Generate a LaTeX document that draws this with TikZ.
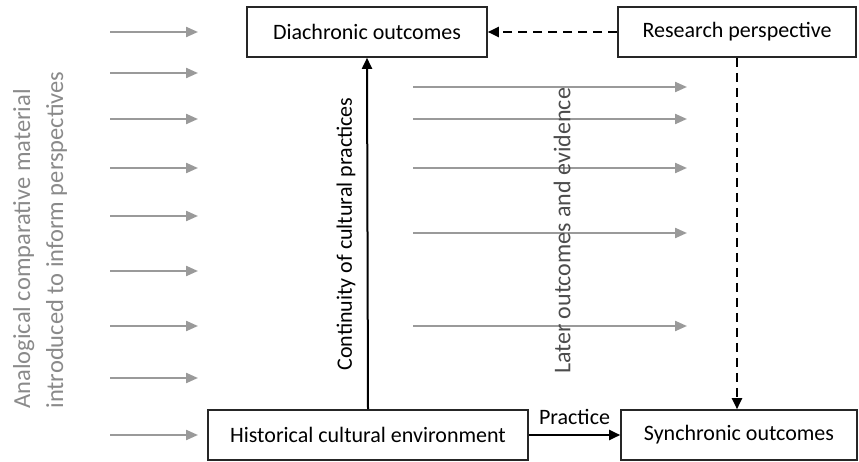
\documentclass[tikz,border=0pt]{standalone}
\usepackage{fontspec}
\setmainfont{Carlito}
\usetikzlibrary{arrows.meta}
\definecolor{feedgray}{HTML}{9A9A9A}
\definecolor{labelgray}{HTML}{8A8A8A}
\tikzset{
  box/.style={draw=black!85, line width=1.6pt, minimum height=50pt, inner sep=0pt,
    font=\fontsize{22}{26}\selectfont},
  feed/.style={feedgray, line width=2.2pt, -{Triangle[length=12pt,width=10pt]}},
  link/.style={black, line width=2pt, -{Triangle[length=11pt,width=10pt]}},
  plink/.style={link, dash pattern=on 9pt off 6pt},
}
\begin{document}
\begin{tikzpicture}[x=1pt,y=-1pt]
    \useasboundingbox (0,0) rectangle (859,462);

    \node[box,minimum width=240pt] (dia) at (367,32) {Diachronic outcomes};
    \node[box,minimum width=238pt] (res) at (737,32) {Research perspective};
    \node[box,minimum width=320pt] (hist) at (368,435) {Historical cultural environment};
    \node[box,minimum width=236pt] (syn) at (739,435) {Synchronic outcomes};

    % analogical material coming in from the left
    \foreach \y [count=\i] in {32,73,119,168,216,271,326,378,435}{
        \coordinate (al\i) at (110,\y);
        \coordinate (ar\i) at (198,\y);
        \draw[feed] (al\i) -- (ar\i);
    }
    % later outcomes
    \foreach \y [count=\i] in {87,119,168,233,326}{
        \coordinate (ml\i) at (413,\y);
        \coordinate (mr\i) at (687,\y);
        \draw[feed] (ml\i) -- (mr\i);
    }

    \node[labelgray,rotate=90,align=left,inner sep=0pt,font=\fontsize{24.5}{33}\selectfont]
        (anal) at (40,240) {Analogical comparative material\\introduced to inform perspectives};
    \node[rotate=90,inner sep=0pt,font=\fontsize{22}{26}\selectfont]
        (cont) at (346,234) {Continuity of cultural practices};
    \node[black!70,rotate=90,inner sep=0pt,font=\fontsize{24}{26}\selectfont]
        (later) at (562,231) {Later outcomes and evidence};

    \draw[link] (hist.north) -- (dia.south);
    \draw[link] (hist.east) -- node[above=6pt,font=\fontsize{22}{26}\selectfont] (prac) {Practice} (syn.west);
    \draw[plink] (res.west) -- (dia.east);
    \draw[plink] (res.south) -- (res.south |- syn.north);
\end{tikzpicture}
\end{document}
